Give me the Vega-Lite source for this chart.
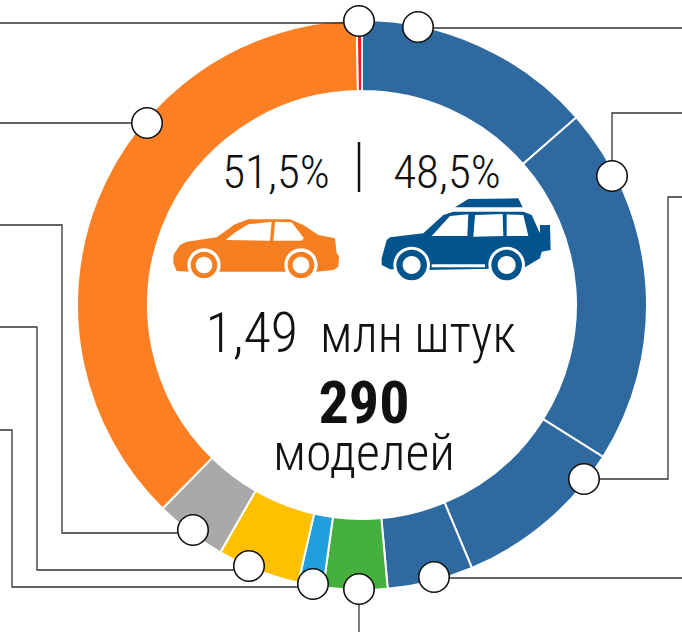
{
"$schema":"https://vega.github.io/schema/vega-lite/v6.json",
"width":682,"height":632,"padding":0,"autosize":{"type":"none"},"background":"white",
"view":{"stroke":null},
"config":{"text":{"font":"Roboto Condensed, Roboto","fontWeight":300,"color":"#111111"}},
"datasets":{
"segments":[
{"segment":"s1","group":"b1","share":13.56,"rank":1},
{"segment":"s2","group":"b2","share":20.39,"rank":2},
{"segment":"s3","group":"b3","share":9.75,"rank":3},
{"segment":"s4","group":"b4","share":4.86,"rank":4},
{"segment":"s5","group":"green","share":3.61,"rank":5},
{"segment":"s6","group":"sky","share":1.42,"rank":6},
{"segment":"s7","group":"yellow","share":4.69,"rank":7},
{"segment":"s8","group":"grey","share":4.06,"rank":8},
{"segment":"s9","group":"orange","share":37.36,"rank":9},
{"segment":"s10","group":"red","share":0.30,"rank":10}
],
"leaders":[
{"id":"a","o":1,"x":0,"y":23},{"id":"a","o":2,"x":359,"y":23},
{"id":"b","o":1,"x":418,"y":28},{"id":"b","o":2,"x":682,"y":28},
{"id":"c","o":1,"x":0,"y":123},{"id":"c","o":2,"x":147,"y":123},
{"id":"d","o":1,"x":612,"y":176},{"id":"d","o":2,"x":612,"y":113},{"id":"d","o":3,"x":682,"y":113},
{"id":"e","o":1,"x":584,"y":479},{"id":"e","o":2,"x":668,"y":479},{"id":"e","o":3,"x":668,"y":197},{"id":"e","o":4,"x":682,"y":197},
{"id":"f","o":1,"x":434,"y":578},{"id":"f","o":2,"x":682,"y":578},
{"id":"g","o":1,"x":359,"y":590},{"id":"g","o":2,"x":359,"y":632},
{"id":"h","o":1,"x":313,"y":587},{"id":"h","o":2,"x":12,"y":587},{"id":"h","o":3,"x":12,"y":430},{"id":"h","o":4,"x":0,"y":430},
{"id":"i","o":1,"x":249,"y":570},{"id":"i","o":2,"x":37,"y":570},{"id":"i","o":3,"x":37,"y":327},{"id":"i","o":4,"x":0,"y":327},
{"id":"j","o":1,"x":193,"y":533},{"id":"j","o":2,"x":62,"y":533},{"id":"j","o":3,"x":62,"y":225},{"id":"j","o":4,"x":0,"y":225},
{"id":"sep","o":1,"x":359,"y":142},{"id":"sep","o":2,"x":359,"y":192}
],
"dots":[
{"x":359,"y":21},{"x":418,"y":27},{"x":612,"y":176},{"x":584,"y":479},{"x":434,"y":577},
{"x":359,"y":589},{"x":313,"y":584},{"x":249,"y":566},{"x":193,"y":530},{"x":147,"y":123}
]
},
"layer":[
{"data":{"name":"segments"},
 "mark":{"type":"arc","radius":285,"radius2":214,"stroke":"white","strokeWidth":2},
 "encoding":{
  "theta":{"field":"share","type":"quantitative","stack":true,"scale":{"domain":[0,100]}},
  "order":{"field":"rank","type":"quantitative"},
  "x":{"datum":362,"type":"quantitative","scale":{"domain":[0,682],"nice":false},"axis":null},
  "y":{"datum":305,"type":"quantitative","scale":{"domain":[0,632],"nice":false,"reverse":true},"axis":null},
  "color":{"field":"group","type":"nominal","legend":null,"scale":{"domain":["b1","b2","b3","b4","green","sky","yellow","grey","orange","red"],"range":["#2e6a9f","#2e6a9f","#2e6a9f","#2e6a9f","#46b03f","#1f9fdc","#ffc000","#a9a9a9","#fd7f24","#ee1c1c"]}}
 }},
{"data":{"name":"leaders"},
 "transform":[{"filter":"datum.id != 'sep'"}],
 "mark":{"type":"line","color":"#333333","strokeWidth":1.3},
 "encoding":{
  "x":{"field":"x","type":"quantitative","axis":null},
  "y":{"field":"y","type":"quantitative","axis":null},
  "detail":{"field":"id"},
  "order":{"field":"o","type":"quantitative"}
 }},
{"data":{"name":"leaders"},
 "transform":[{"filter":"datum.id == 'sep'"}],
 "mark":{"type":"line","color":"#111111","strokeWidth":2.5},
 "encoding":{
  "x":{"field":"x","type":"quantitative","axis":null},
  "y":{"field":"y","type":"quantitative","axis":null},
  "order":{"field":"o","type":"quantitative"}
 }},
{"data":{"name":"dots"},
 "mark":{"type":"point","filled":true,"fill":"white","stroke":"#111111","strokeWidth":1.6,"size":930,"opacity":1,"shape":"circle"},
 "encoding":{
  "x":{"field":"x","type":"quantitative","axis":null},
  "y":{"field":"y","type":"quantitative","axis":null}
 }},
{"data":{"values":[{"label":"51,5%","cx":276,"by":188},{"label":"48,5%","cx":447,"by":188}]},
 "mark":{"type":"text","fontSize":47,"baseline":"alphabetic","align":"center"},
 "encoding":{"x":{"field":"cx","type":"quantitative"},"y":{"field":"by","type":"quantitative"},"text":{"field":"label"}}},
{"data":{"values":[{"label":"1,49","cx":298,"by":352}]},
 "mark":{"type":"text","fontSize":56,"baseline":"alphabetic","align":"right"},
 "encoding":{"x":{"field":"cx","type":"quantitative"},"y":{"field":"by","type":"quantitative"},"text":{"field":"label"}}},
{"data":{"values":[{"label":"млн штук","cx":320,"by":352}]},
 "mark":{"type":"text","fontSize":51,"baseline":"alphabetic","align":"left"},
 "encoding":{"x":{"field":"cx","type":"quantitative"},"y":{"field":"by","type":"quantitative"},"text":{"field":"label"}}},
{"data":{"values":[{"label":"290","cx":364,"by":423}]},
 "mark":{"type":"text","fontSize":60,"fontWeight":"bold","baseline":"alphabetic","align":"center"},
 "encoding":{"x":{"field":"cx","type":"quantitative"},"y":{"field":"by","type":"quantitative"},"text":{"field":"label"}}},
{"data":{"values":[{"label":"моделей","cx":364,"by":470}]},
 "mark":{"type":"text","fontSize":52,"baseline":"alphabetic","align":"center"},
 "encoding":{"x":{"field":"cx","type":"quantitative"},"y":{"field":"by","type":"quantitative"},"text":{"field":"label"}}},
{"data":{"values":[
 {"part":"sedan-body","px":256.67,"py":246.67},
 {"part":"sedan-white","px":256.67,"py":246.67},
 {"part":"sedan-tyre","px":256.67,"py":246.67},
 {"part":"sedan-hub","px":256.67,"py":246.67},
 {"part":"suv-body","px":466.67,"py":243.33},
 {"part":"suv-white","px":466.67,"py":243.33},
 {"part":"suv-tyre","px":466.67,"py":243.33},
 {"part":"suv-hub","px":466.67,"py":243.33}
 ]},
 "mark":{"type":"point","filled":true,"size":0.4444,"opacity":1,"strokeWidth":0},
 "encoding":{
  "x":{"field":"px","type":"quantitative"},
  "y":{"field":"py","type":"quantitative"},
  "fill":{"field":"part","type":"nominal","legend":null,"sort":null,"scale":{"domain":["sedan-body","sedan-white","sedan-tyre","sedan-hub","suv-body","suv-white","suv-tyre","suv-hub"],"range":["#f57e20","#ffffff","#f57e20","#ffffff","#03548c","#ffffff","#03548c","#ffffff"]}},
  "shape":{"field":"part","type":"nominal","legend":null,"sort":null,"scale":{"domain":["sedan-body","sedan-white","sedan-tyre","sedan-hub","suv-body","suv-white","suv-tyre","suv-hub"],"range":[
   "M-250,30L-248,22L-230,-5L-210,-15L-120,-28L-65,-67L-25,-82L100,-82L140,-65L185,-35L235,-25L240,20L247,28L245,60L230,70L180,75L-200,75L-240,73L-250,50Z",
   "M-93,-20L-62,-45L-25,-67L45,-75L40,-18ZM55,-75L105,-73L142,-25L135,-18L50,-18ZM-208,55A50,50 0 1,0 -108,55A50,50 0 1,0 -208,55ZM83,55A50,50 0 1,0 183,55A50,50 0 1,0 83,55Z",
   "M-198,55A40,40 0 1,0 -118,55A40,40 0 1,0 -198,55ZM93,55A40,40 0 1,0 173,55A40,40 0 1,0 93,55Z",
   "M-183,55A25,25 0 1,0 -133,55A25,25 0 1,0 -183,55ZM108,55A25,25 0 1,0 158,55A25,25 0 1,0 108,55Z",
   "M-255,45L-240,-10L-230,-18L-130,-30L-70,-85L-40,-95L170,-95L195,-85L220,-30L220,-55L250,-55L252,20L225,25L220,45L170,75L-130,80L-230,78L-255,65ZM-35,-108L5,-133L155,-135L168,-108Z",
   "M-105,-22L-50,-82L5,-87L2,-22ZM25,-85L108,-88L110,-22L20,-20ZM120,-87L170,-85L185,-22L120,-22ZM-105,63L55,63L55,72L-105,72ZM-220,65A55,55 0 1,0 -110,65A55,55 0 1,0 -220,65ZM65,65A55,55 0 1,0 175,65A55,55 0 1,0 65,65Z",
   "M-211,65A46,46 0 1,0 -119,65A46,46 0 1,0 -211,65ZM74,65A46,46 0 1,0 166,65A46,46 0 1,0 74,65Z",
   "M-192,65A27,27 0 1,0 -138,65A27,27 0 1,0 -192,65ZM93,65A27,27 0 1,0 147,65A27,27 0 1,0 93,65Z"
  ]}}
 }}
],
"resolve":{"scale":{"color":"independent","fill":"independent"}}
}
